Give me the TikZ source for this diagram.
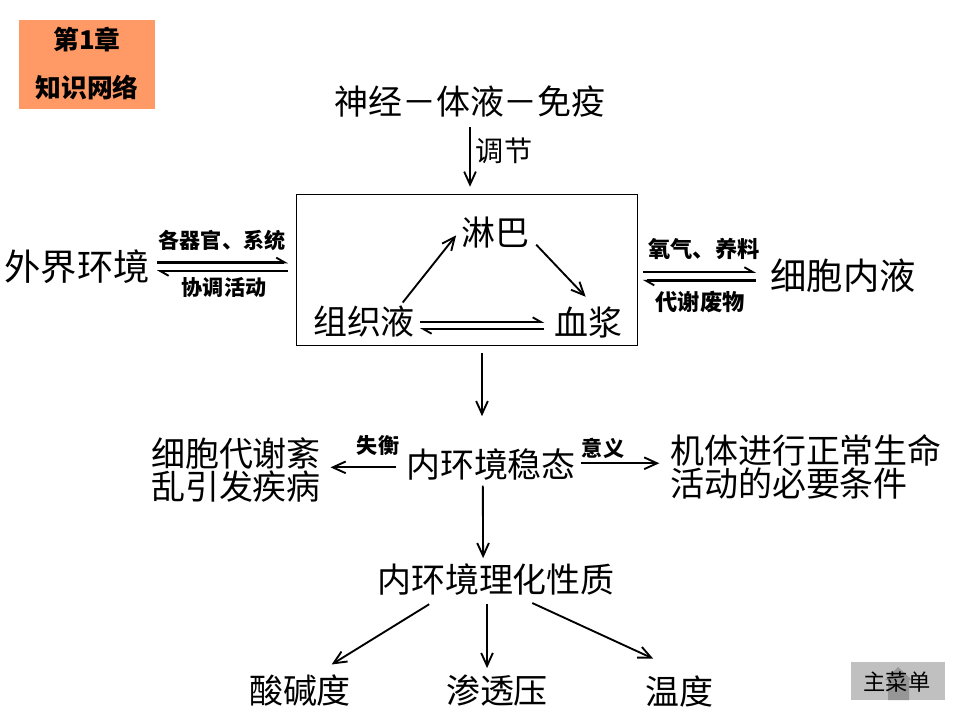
\documentclass[tikz,border=0pt]{standalone}
\usepackage{fontspec}
\setmainfont{Noto Sans CJK SC}
\usepackage{xcolor}
\usepackage{tikz}
\usetikzlibrary{arrows.meta,positioning,calc}
\definecolor{chapbg}{RGB}{255,153,102}
\definecolor{menugray}{RGB}{192,192,192}
\definecolor{menudark}{RGB}{150,150,150}

\begin{document}
\begin{tikzpicture}[x=0.03cm,y=-0.03cm,
  every node/.style={inner sep=0pt},
  big/.style={font=\fontsize{29}{28}\selectfont},
  mid/.style={font=\fontsize{24}{26}\selectfont},
  lbl/.style={font=\fontsize{18}{20}\selectfont\bfseries},
  arr/.style={line width=1.6pt,-{Straight Barb[length=11pt,width=10pt,line width=1.6pt]}},
  harp/.style={line width=2.2pt,-{Straight Barb[harpoon,length=7pt,width=8pt,line width=1.6pt]}}]
\useasboundingbox (0,0) rectangle (960,720);
% chapter tag
\fill[chapbg] (19,20) rectangle (155,109);
\node[font=\fontsize{22}{24}\selectfont\bfseries] (ch) at (87,40) {第1章};
\node[font=\fontsize{22}{24}\selectfont\bfseries] (zswl) at (87,87) {知识网络};
% top
\node[big] (sjt) at (470,102) {神经－体液－免疫};
\node[draw,line width=0.8pt,minimum width=290.8pt,minimum height=129.3pt] (nhj) at (467,270) {};
\draw[arr,shorten >=6pt] ([yshift=-8pt]sjt.south) -- (sjt.south |- nhj.north);
\node[mid] (tj) at (504,151) {调节};
% inside the box
\node[big] (ll) at (495,233) {淋巴};
\node[big] (zzy) at (364,322) {组织液};
\node[big] (xj) at (588,322) {血浆};
\draw[arr] ([xshift=33pt,yshift=3pt]zzy.north) -- ([xshift=-4pt,yshift=-2pt]ll.west);
\draw[arr] ([xshift=6pt,yshift=-10pt]ll.east) -- ([xshift=-2pt,yshift=8pt]xj.north);
\draw[harp] ([xshift=4pt]zzy.east) -- ([xshift=-8pt]xj.west);
\draw[harp] ([xshift=-8pt,yshift=-6pt]xj.west) -- ([xshift=4pt,yshift=-6pt]zzy.east);
% left and right
\node[big,font=\fontsize{31}{30}\selectfont] (wjhj) at (77,267) {外界环境};
\draw[harp] ($(wjhj.east)+(6pt,4pt)$) -- ($(nhj.west |- wjhj.east)+(-7pt,4pt)$);
\draw[harp] ($(nhj.west |- wjhj.east)+(-7pt,-3.5pt)$) -- ($(wjhj.east)+(6pt,-3.5pt)$);
\node[lbl] (qg) at (222,240) {各器官、系统};
\node[lbl] (xt) at (224,287) {协调活动};
\node[big,font=\fontsize{31}{30}\selectfont] (xbnj) at (843,276) {细胞内液};
\draw[harp] ($(nhj.east |- xbnj.west)+(4pt,3.5pt)$) -- ($(xbnj.west)+(-12pt,3.5pt)$);
\draw[harp] ($(xbnj.west)+(-12pt,-4pt)$) -- ($(nhj.east |- xbnj.west)+(4pt,-4pt)$);
\node[lbl,font=\fontsize{19}{21}\selectfont\bfseries] (yq) at (704,249) {氧气、养料};
\node[lbl,font=\fontsize{19}{21}\selectfont\bfseries] (dx) at (700,302) {代谢废物};
% steady state
\node[big] (wtwt) at (491,465) {内环境稳态};
\draw[arr,shorten >=28pt] ([xshift=12.8pt,yshift=-6pt]nhj.south) -- ([xshift=12.8pt]nhj.south |- wtwt.north);
\node[big,align=center] (xbdx) at (236,470) {细胞代谢紊\\乱引发疾病};
\node[big,align=left] (jt) at (806,467) {机体进行正常生命\\活动的必要条件};
\draw[arr,shorten >=8pt] ([xshift=-8pt,yshift=-2pt]wtwt.west) -- ([yshift=-2pt]wtwt.west -| xbdx.east);
\draw[arr,shorten >=9pt] ([xshift=4pt,yshift=1.5pt]wtwt.east) -- ([yshift=1.5pt]wtwt.east -| jt.west);
\node[lbl] (sh) at (378,445) {失衡};
\node[lbl] (yy) at (603,448) {意义};
% physico-chemical properties
\node[big] (lhxz) at (496,580) {内环境理化性质};
\draw[arr] ([xshift=-7pt,yshift=-4pt]wtwt.south) -- ([xshift=-11pt,yshift=5pt]lhxz.north);
\node[big] (sjd) at (300,691) {酸碱度};
\node[big] (sty) at (497,691) {渗透压};
\node[big] (wd) at (679,691) {温度};
\draw[arr] ([xshift=-57pt,yshift=-7pt]lhxz.south) -- ([xshift=27pt,yshift=9pt]sjd.north);
\draw[arr] ([xshift=-7.7pt,yshift=-7pt]lhxz.south) -- ([xshift=-8.5pt,yshift=6pt]sty.north);
\draw[arr] ([xshift=31pt,yshift=-6pt]lhxz.south) -- ([xshift=-22pt,yshift=14pt]wd.north);
% menu button
\fill[menugray] (851,662) rectangle (945,700);
\fill[menudark] (898,667) -- (912,680) -- (909,680) -- (909,700) -- (888,700) -- (888,680) -- (885,680) -- cycle;
\node[font=\fontsize{19}{21}\selectfont] (menu) at (897,682) {主菜单};
\end{tikzpicture}
\end{document}
